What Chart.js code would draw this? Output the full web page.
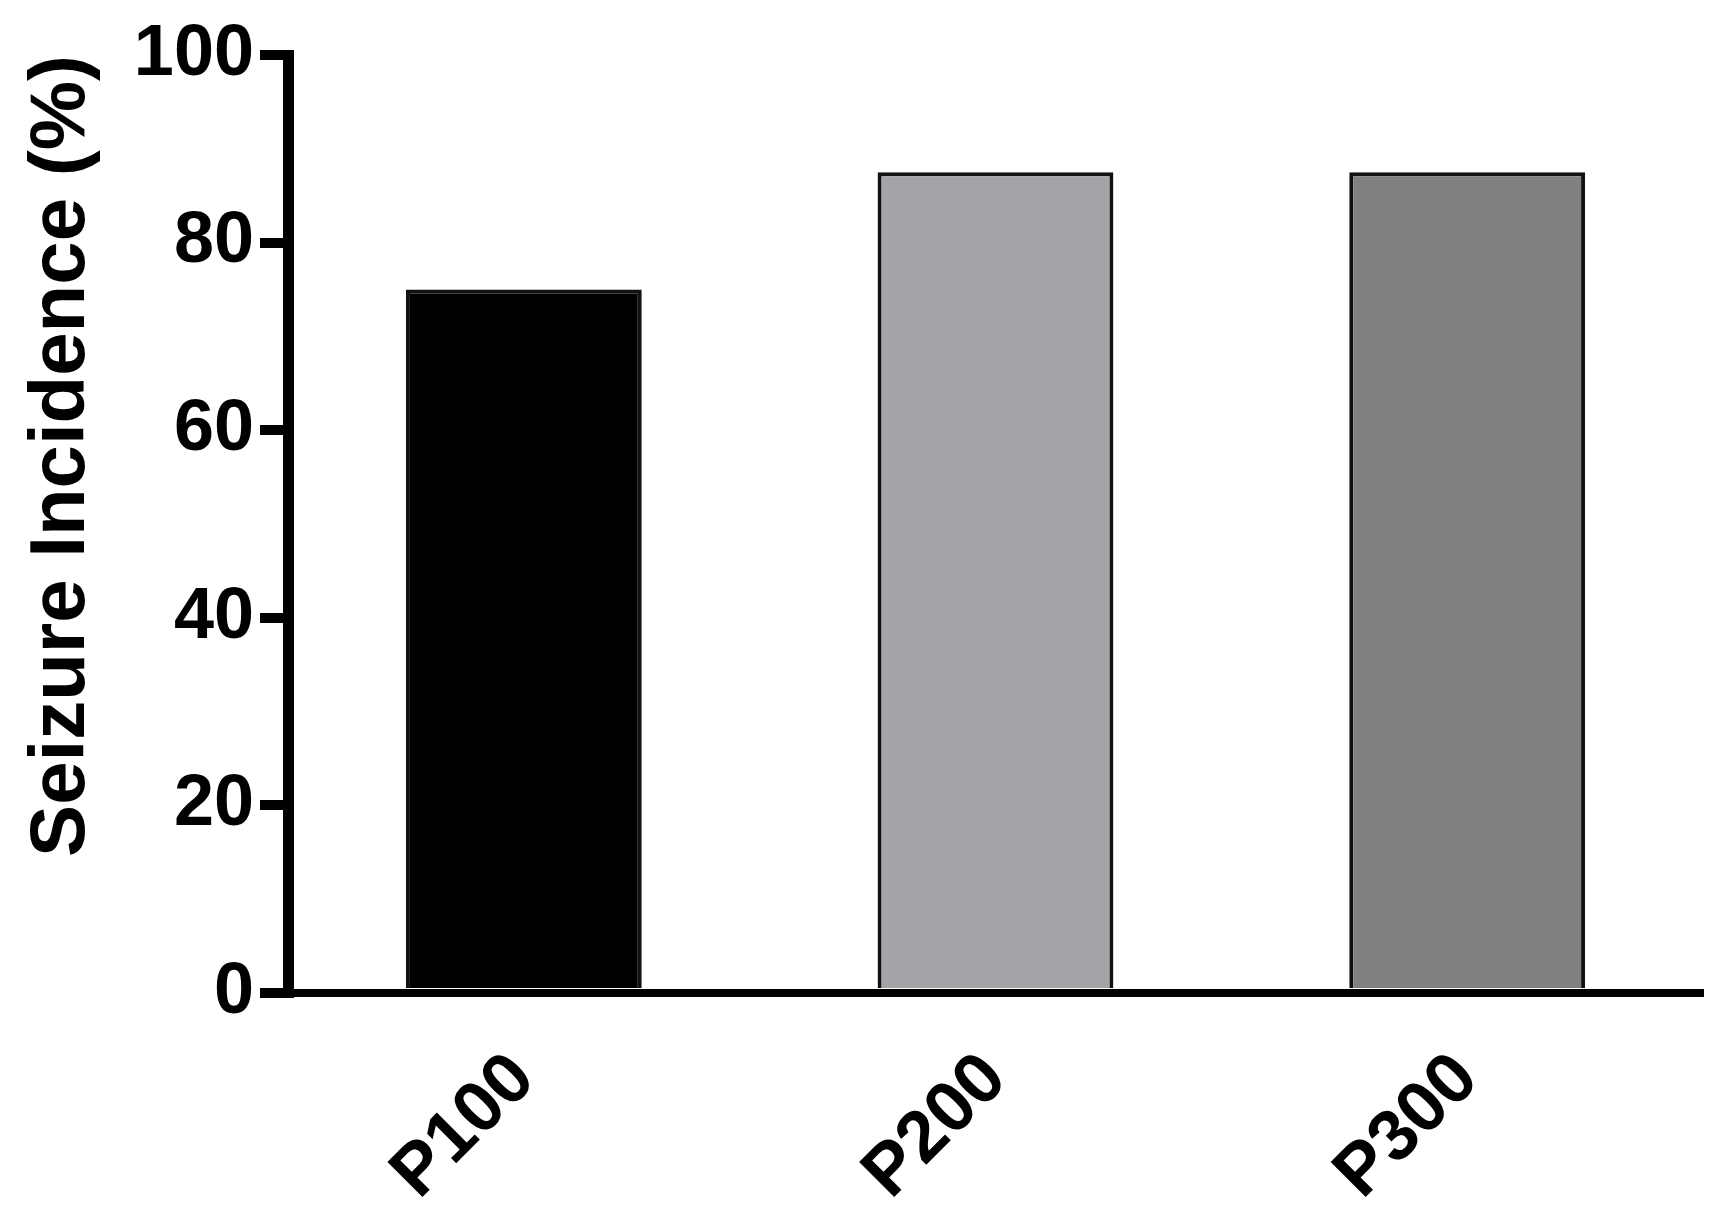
<!DOCTYPE html>
<html>
<head>
<meta charset="utf-8">
<script src="https://cdn.jsdelivr.net/npm/chart.js@4"></script>
<style>
  html, body { margin: 0; padding: 0; background: #fff; }
  canvas { display: block; }
</style>
</head>
<body>
<canvas id="seizureChart" width="1730" height="1222"></canvas>
<script>
const categories = ['P100', 'P200', 'P300'];
const incidence = [75, 87.5, 87.5];
const barColors = ['#000000', '#a4a3a8', '#808080'];
const yTickValues = [0, 20, 40, 60, 80, 100];
const yTitle = 'Seizure Incidence (%)';

const fontFamily = '"Liberation Sans", Arial, Helvetica, sans-serif';

const ctx = document.getElementById('seizureChart').getContext('2d');

new Chart(ctx, {
  type: 'bar',
  data: {
    labels: categories,
    datasets: [
      {
        data: incidence,
        backgroundColor: barColors,
        borderColor: '#111111',
        borderWidth: 4,
        barPercentage: 0.5,
        categoryPercentage: 1,
      },
    ],
  },
  options: {
    responsive: false,
    animation: false,
    layout: {
      padding: { top: 55, right: 27, left: 0, bottom: 0 },
    },
    plugins: {
      legend: { display: false },
      tooltip: { enabled: false },
    },
    scales: {
      x: {
        offset: true,
        grid: { display: false },
        border: { display: true, color: '#000', width: 8 },
        ticks: {
          color: '#000',
          font: { family: fontFamily, size: 72, weight: 'bold' },
          minRotation: 45,
          maxRotation: 45,
          padding: 36,
        },
        afterFit: (scale) => {
          scale.height = 229;
        },
      },
      y: {
        min: 0,
        max: 100,
        afterBuildTicks: (scale) => {
          scale.ticks = yTickValues.map((v) => ({ value: v }));
        },
        grid: {
          display: true,
          drawOnChartArea: false,
          drawTicks: true,
          tickLength: 28,
          lineWidth: 10,
          color: '#000',
        },
        border: { display: true, color: '#000', width: 11 },
        ticks: {
          color: '#000',
          padding: 6,
          font: { family: fontFamily, size: 72, weight: 'bold' },
        },
        title: {
          display: true,
          text: yTitle,
          color: '#000',
          align: 'end',
          padding: { top: 16, bottom: 0 },
          font: { family: fontFamily, size: 78, weight: 'bold' },
        },
        afterFit: (scale) => {
          scale.width = 288;
        },
      },
    },
  },
});
</script>
</body>
</html>
